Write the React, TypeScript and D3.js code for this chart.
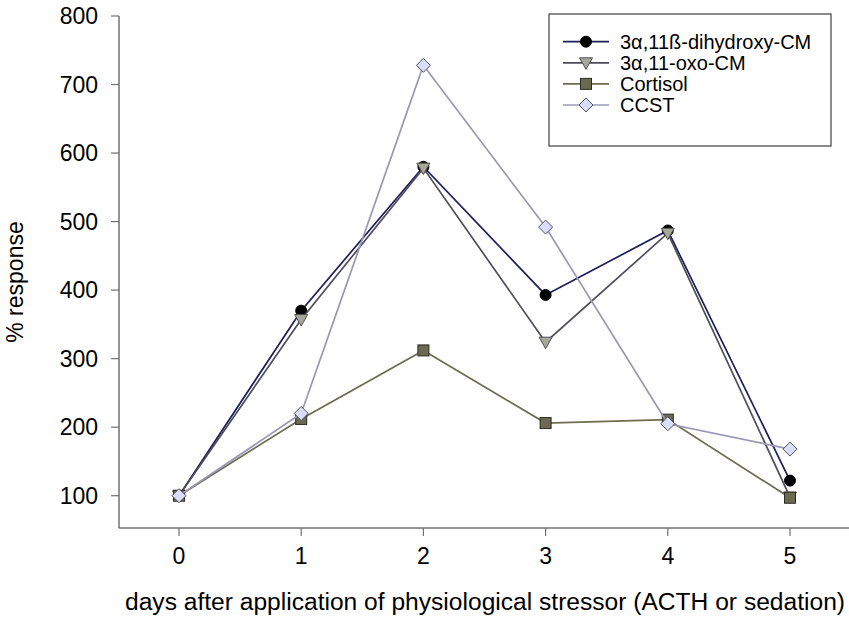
import React from "react";
import * as d3 from "d3";

const days = [0, 1, 2, 3, 4, 5];
const dihydroxy = [100, 370, 580, 393, 487, 122];
const oxo = [100, 357, 578, 324, 483, 98];
const cortisol = [100, 212, 312, 206, 211, 97];
const ccst = [100, 220, 728, 492, 205, 168];
const yTicks = [100, 200, 300, 400, 500, 600, 700, 800];
const xTicks = [0, 1, 2, 3, 4, 5];
const seriesNames = ["3\u03b1,11\u00df-dihydroxy-CM", "3\u03b1,11-oxo-CM", "Cortisol", "CCST"];

type Style = { line: string; fill: string; stroke: string; shape: string };
const styles: Style[] = [
  { line: "#1e1e5a", fill: "#000000", stroke: "#000000", shape: "circle" },
  { line: "#4e4e5a", fill: "#a8a89a", stroke: "#505050", shape: "triangle" },
  { line: "#6c6c4e", fill: "#6a6a52", stroke: "#2c2c22", shape: "square" },
  { line: "#9898b6", fill: "#dcdcff", stroke: "#505058", shape: "diamond" },
];

const FONT = "'Liberation Sans', Arial, sans-serif";

function Marker({ x, y, s }: { x: number; y: number; s: Style }) {
  if (s.shape === "circle") return <circle cx={x} cy={y} r={5.5} fill={s.fill} stroke={s.stroke} strokeWidth={1} />;
  if (s.shape === "square") return <rect x={x - 5.5} y={y - 5.5} width={11} height={11} fill={s.fill} stroke={s.stroke} strokeWidth={1} />;
  if (s.shape === "diamond") return <path d={`M${x},${y - 7}L${x + 7},${y}L${x},${y + 7}L${x - 7},${y}Z`} fill={s.fill} stroke={s.stroke} strokeWidth={1} />;
  return <path d={`M${x - 6.5},${y - 5}L${x + 6.5},${y - 5}L${x},${y + 6.5}Z`} fill={s.fill} stroke={s.stroke} strokeWidth={1} />;
}

export default function App() {
  const W = 849, H = 617;
  const x = d3.scaleLinear().domain([0, 5]).range([179, 790]);
  const y = d3.scaleLinear().domain([100, 800]).range([495.7, 16]);
  const axisLeft = 119, axisBottom = 528;
  const all = [dihydroxy, oxo, cortisol, ccst];
  const line = d3.line<number>().x((_, i) => x(days[i])).y((v) => y(v));

  return (
    <svg width={W} height={H} style={{ position: "absolute", left: 0, top: 0, background: "#fff" }} fontFamily={FONT}>
      <rect width={W} height={H} fill="#fff" />
      {/* axes */}
      <line x1={axisLeft} y1={y(800)} x2={axisLeft} y2={axisBottom} stroke="#707070" strokeWidth={1.5} />
      <line x1={axisLeft} y1={axisBottom} x2={849} y2={axisBottom} stroke="#707070" strokeWidth={1.5} />
      {yTicks.map((t) => (
        <g key={"y" + t}>
          <line x1={axisLeft - 8} x2={axisLeft} y1={y(t)} y2={y(t)} stroke="#707070" strokeWidth={1.2} />
          <text x={98} y={y(t)} dy="0.36em" textAnchor="end" fontSize={23} fill="#000">{t}</text>
        </g>
      ))}
      {xTicks.map((t) => (
        <g key={"x" + t}>
          <line x1={x(t)} x2={x(t)} y1={axisBottom} y2={axisBottom + 8} stroke="#707070" strokeWidth={1.2} />
          <text x={x(t)} y={556} dy="0.36em" textAnchor="middle" fontSize={23} fill="#000">{t}</text>
        </g>
      ))}
      <text x={485} y={602} dy="0.36em" textAnchor="middle" fontSize={23.5} fill="#000" textLength={720} lengthAdjust="spacingAndGlyphs">
        days after application of physiological stressor (ACTH or sedation)
      </text>
      <text transform={`translate(15,${282}) rotate(-90)`} dy="0.36em" textAnchor="middle" fontSize={23} fill="#000">
        % response
      </text>
      {/* series */}
      {all.map((vals, si) => (
        <g key={"s" + si}>
          <path d={line(vals) || ""} fill="none" stroke={styles[si].line} strokeWidth={1.7} />
          {vals.map((v, i) => (
            <Marker key={i} x={x(days[i])} y={y(v)} s={styles[si]} />
          ))}
        </g>
      ))}
      {/* legend */}
      <rect x={549} y={14} width={282} height={132} fill="#fff" stroke="#404040" strokeWidth={1.2} />
      {seriesNames.map((n, i) => {
        const ly = 41.7 + i * 21.1;
        return (
          <g key={"l" + i}>
            <line x1={563} x2={609} y1={ly} y2={ly} stroke={styles[i].line} strokeWidth={1.7} />
            <Marker x={586} y={ly} s={styles[i]} />
            <text x={620} y={ly} dy="0.36em" fontSize={20} fill="#000">{n}</text>
          </g>
        );
      })}
    </svg>
  );
}
